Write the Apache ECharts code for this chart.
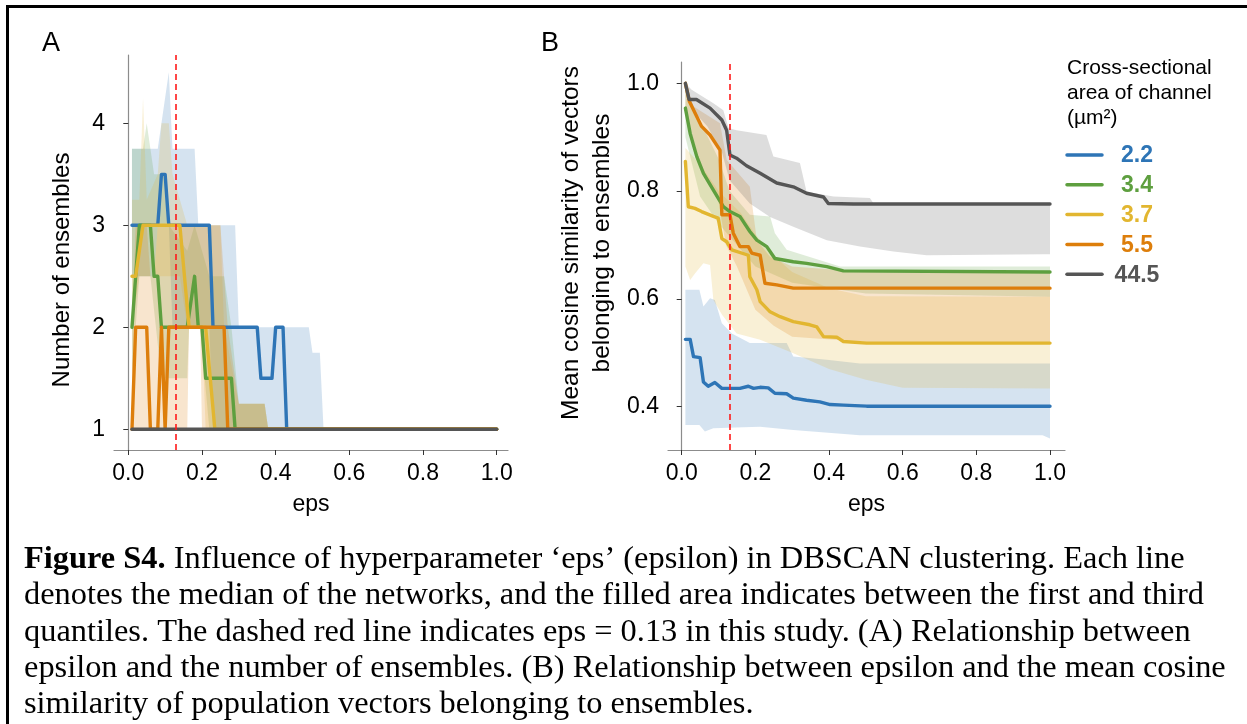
<!DOCTYPE html>
<html>
<head>
<meta charset="utf-8">
<script src="https://cdn.jsdelivr.net/npm/echarts@6/dist/echarts.min.js"></script>
<style>
  html, body { margin: 0; padding: 0; background: #fff; }
  #chart { width: 1247px; height: 724px; }
</style>
</head>
<body>
<div id="chart"></div>
<script>
// Channel cross-sectional areas (µm²) and their colours
const areas = ['2.2', '3.4', '3.7', '5.5', '44.5'];
const colors = ['#2e75b6', '#5e9f3f', '#e2b630', '#dd7e0b', '#555555'];

// eps used in the study
const epsChosen = 0.13;

// Tick labels
const xTicks = [0, 0.2, 0.4, 0.6, 0.8, 1.0];
const yTicksA = [1, 2, 3, 4];
const yTicksB = [0.4, 0.6, 0.8, 1.0];

// ---- Panel A: number of ensembles (median, [eps, value]) ----
const medA_22 = [[0.01,3],[0.08,3],[0.09,3.5],[0.10,3.5],[0.11,3],[0.22,3],[0.23,2],[0.35,2],[0.36,1.5],[0.39,1.5],[0.40,2],[0.42,2],[0.43,1],[1.0,1]];
const medA_34 = [[0.01,2],[0.03,3],[0.06,3],[0.07,2.5],[0.08,2.5],[0.09,2],[0.16,2],[0.18,2.5],[0.19,2],[0.20,2],[0.21,1.5],[0.28,1.5],[0.29,1],[1.0,1]];
const medA_37 = [[0.01,2.5],[0.02,2.5],[0.04,3],[0.14,3],[0.165,2],[0.21,2],[0.235,1],[1.0,1]];
const medA_55 = [[0.01,1],[0.02,2],[0.05,2],[0.06,1],[0.08,1],[0.09,2],[0.10,1],[0.11,2],[0.26,2],[0.27,1],[1.0,1]];
const medA_445 = [[0.01,1],[0.25,1],[0.5,1],[0.75,1],[1.0,1]];

// Panel A quartile bands (upper = third quartile, lower = first quartile)
const upA_22 = [[0.01,3.75],[0.07,3.75],[0.08,3.75],[0.11,4.5],[0.12,3.75],[0.18,3.75],[0.19,3],[0.29,3],[0.30,2],[0.49,2],[0.50,1.75],[0.52,1.75],[0.53,1],[1.0,1]];
const loA_22 = [[0.01,2.5],[0.07,2.5],[0.08,3],[0.11,3],[0.12,2],[0.22,2],[0.23,1],[1.0,1]];
const upA_34 = [[0.01,3.75],[0.04,3.75],[0.05,4],[0.06,3.75],[0.07,3.5],[0.10,3.5],[0.11,3],[0.16,2.75],[0.18,3],[0.20,2.75],[0.22,2.5],[0.26,2.5],[0.28,2],[0.30,1.25],[0.37,1.25],[0.38,1],[1.0,1]];
const loA_34 = [[0.01,1.5],[0.03,2.5],[0.06,2.5],[0.09,1.5],[0.16,1.5],[0.165,2],[0.195,2],[0.22,1],[1.0,1]];
const upA_37 = [[0.01,3.25],[0.03,3.25],[0.04,4.25],[0.05,3.25],[0.08,3.5],[0.09,4],[0.11,4],[0.12,3.5],[0.16,3],[0.25,3],[0.26,2],[0.30,1.25],[0.37,1.25],[0.38,1],[1.0,1]];
const loA_37 = [[0.01,2],[0.03,2.5],[0.14,2.5],[0.16,2],[0.20,2],[0.21,1],[1.0,1]];
const upA_55 = [[0.01,2],[0.02,3],[0.05,3],[0.06,2.5],[0.07,2.5],[0.08,3],[0.25,3],[0.27,2],[0.30,1.25],[0.37,1.25],[0.38,1],[1.0,1]];
const loA_55 = [[0.01,1],[0.16,1],[0.165,2],[0.195,2],[0.20,1],[1.0,1]];

// ---- Panel B: mean cosine similarity (median) ----
const medB_22 = [[0.01,0.525],[0.023,0.525],[0.032,0.493],[0.05,0.491],[0.059,0.446],[0.072,0.438],[0.09,0.445],[0.109,0.434],[0.158,0.434],[0.181,0.438],[0.195,0.434],[0.213,0.436],[0.235,0.435],[0.253,0.425],[0.285,0.424],[0.303,0.416],[0.339,0.412],[0.375,0.409],[0.403,0.404],[0.439,0.403],[0.502,0.401],[1.0,0.401]];
const medB_34 = [[0.01,0.954],[0.023,0.907],[0.041,0.864],[0.059,0.833],[0.086,0.802],[0.113,0.771],[0.131,0.762],[0.158,0.753],[0.185,0.725],[0.204,0.709],[0.231,0.697],[0.253,0.675],[0.303,0.669],[0.339,0.666],[0.394,0.66],[0.439,0.652],[1.0,0.65]];
const medB_37 = [[0.01,0.855],[0.018,0.771],[0.036,0.768],[0.054,0.762],[0.086,0.753],[0.099,0.75],[0.109,0.712],[0.122,0.706],[0.136,0.691],[0.181,0.681],[0.185,0.641],[0.204,0.617],[0.213,0.595],[0.24,0.576],[0.267,0.567],[0.303,0.558],[0.348,0.552],[0.367,0.548],[0.385,0.53],[0.421,0.529],[0.439,0.521],[0.502,0.518],[1.0,0.518]];
const medB_55 = [[0.01,1.0],[0.021,0.966],[0.054,0.92],[0.077,0.904],[0.104,0.876],[0.109,0.756],[0.131,0.756],[0.14,0.722],[0.158,0.697],[0.181,0.697],[0.19,0.685],[0.213,0.681],[0.226,0.629],[0.258,0.626],[0.303,0.62],[1.0,0.62]];
const medB_445 = [[0.01,1.0],[0.02,0.97],[0.04,0.97],[0.077,0.954],[0.109,0.932],[0.122,0.913],[0.131,0.867],[0.149,0.861],[0.176,0.847],[0.213,0.833],[0.258,0.815],[0.303,0.808],[0.339,0.796],[0.385,0.789],[0.398,0.777],[0.466,0.776],[1.0,0.776]];

// Panel B quartile bands
const upB_22 = [[0.01,0.617],[0.048,0.617],[0.059,0.586],[0.077,0.601],[0.09,0.598],[0.109,0.555],[0.136,0.536],[0.185,0.518],[0.285,0.518],[0.303,0.493],[0.394,0.487],[0.484,0.48],[1.0,0.48]];
const loB_22 = [[0.01,0.366],[0.048,0.366],[0.063,0.354],[0.086,0.36],[0.167,0.362],[0.213,0.363],[0.303,0.357],[0.484,0.347],[0.98,0.347],[1.0,0.341]];
const upB_34 = [[0.01,0.99],[0.05,0.93],[0.10,0.86],[0.13,0.80],[0.185,0.756],[0.24,0.753],[0.253,0.722],[0.285,0.691],[0.43,0.66],[1.0,0.66]];
const loB_34 = [[0.01,0.90],[0.05,0.79],[0.10,0.74],[0.15,0.70],[0.20,0.66],[0.30,0.63],[0.50,0.61],[1.0,0.604]];
const upB_37 = [[0.01,0.88],[0.05,0.85],[0.10,0.80],[0.13,0.78],[0.16,0.76],[0.20,0.72],[0.25,0.68],[0.30,0.65],[0.40,0.62],[0.50,0.605],[1.0,0.604]];
const loB_37 = [[0.01,0.66],[0.023,0.635],[0.036,0.647],[0.059,0.666],[0.077,0.663],[0.086,0.598],[0.11,0.57],[0.149,0.536],[0.213,0.524],[0.30,0.50],[0.40,0.47],[0.50,0.45],[0.60,0.435],[1.0,0.434]];
const upB_55 = [[0.01,1.0],[0.032,0.957],[0.104,0.926],[0.122,0.858],[0.185,0.808],[0.204,0.709],[0.24,0.678],[0.30,0.66],[0.50,0.65],[1.0,0.648]];
const loB_55 = [[0.01,0.95],[0.05,0.85],[0.10,0.78],[0.12,0.70],[0.15,0.66],[0.20,0.58],[0.25,0.55],[0.30,0.53],[0.50,0.52],[1.0,0.518]];
const upB_445 = [[0.01,1.0],[0.027,0.988],[0.086,0.963],[0.113,0.95],[0.127,0.917],[0.149,0.913],[0.23,0.904],[0.249,0.864],[0.321,0.852],[0.339,0.799],[0.412,0.79],[0.511,0.787],[0.52,0.778],[1.0,0.778]];
const loB_445 = [[0.01,1.0],[0.03,0.95],[0.07,0.92],[0.11,0.87],[0.13,0.82],[0.185,0.777],[0.24,0.752],[0.303,0.734],[0.394,0.709],[0.484,0.697],[0.575,0.688],[0.665,0.681],[0.98,0.683],[1.0,0.683]];

const medA = [medA_22, medA_34, medA_37, medA_55, medA_445];
const bandsA = [[upA_22, loA_22], [upA_34, loA_34], [upA_37, loA_37], [upA_55, loA_55], null];
const medB = [medB_22, medB_34, medB_37, medB_55, medB_445];
const bandsB = [[upB_22, loB_22], [upB_34, loB_34], [upB_37, loB_37], [upB_55, loB_55], [upB_445, loB_445]];

const FONT = 'Liberation Sans, Arial, Helvetica, sans-serif';
const SERIF = 'Liberation Serif, Times New Roman, serif';

function hexToRgba(hex, a) {
  const n = parseInt(hex.slice(1), 16);
  return 'rgba(' + ((n >> 16) & 255) + ',' + ((n >> 8) & 255) + ',' + (n & 255) + ',' + a + ')';
}

// Filled inter-quartile region drawn as a polygon through the axis scales
function bandSeries(idx, upper, lower, color) {
  return {
    type: 'custom',
    xAxisIndex: idx, yAxisIndex: idx,
    silent: true, z: 1, clip: true,
    data: [upper[0]],
    renderItem: function (params, api) {
      const pts = upper.map(p => api.coord(p))
        .concat(lower.slice().reverse().map(p => api.coord(p)));
      return { type: 'polygon', shape: { points: pts }, style: { fill: hexToRgba(color, 0.2) } };
    }
  };
}

function lineSeries(idx, name, data, color) {
  return {
    type: 'line', name: name,
    xAxisIndex: idx, yAxisIndex: idx,
    data: data, symbol: 'none', z: 3, silent: true,
    lineStyle: { color: color, width: 3.4, join: 'round', cap: 'round' }
  };
}

function epsMarker(idx) {
  return {
    type: 'line', xAxisIndex: idx, yAxisIndex: idx, data: [], z: 5, silent: true,
    markLine: {
      silent: true, symbol: ['none', 'none'], animation: false,
      label: { show: false },
      lineStyle: { color: '#ff1a1a', type: [6, 4], width: 1.6 },
      data: [{ xAxis: epsChosen }]
    }
  };
}

function xAxisCfg(idx, min, max) {
  return {
    type: 'value', gridIndex: idx, min: min, max: max,
    name: 'eps', nameLocation: 'middle', nameGap: 43,
    nameTextStyle: { fontFamily: FONT, fontSize: 23, color: '#000' },
    axisLine: { lineStyle: { color: '#8c8c8c', width: 1.2 } },
    axisTick: { show: true, length: 5, customValues: xTicks, lineStyle: { color: '#333' } },
    axisLabel: { customValues: xTicks, formatter: v => v.toFixed(1), margin: 12,
                 fontFamily: FONT, fontSize: 23, color: '#000' },
    splitLine: { show: false }
  };
}

function yAxisCfg(idx, min, max, ticks, fmt) {
  return {
    type: 'value', gridIndex: idx, min: min, max: max,
    axisLine: { show: true, lineStyle: { color: '#8c8c8c', width: 1.2 } },
    axisTick: { show: true, length: 5, customValues: ticks, lineStyle: { color: '#333' } },
    axisLabel: { customValues: ticks, formatter: fmt, margin: 9,
                 fontFamily: FONT, fontSize: 23, color: '#000' },
    splitLine: { show: false }
  };
}

const series = [];
bandsA.forEach((b, i) => { if (b) series.push(bandSeries(0, b[0], b[1], colors[i])); });
bandsB.forEach((b, i) => { if (b) series.push(bandSeries(1, b[0], b[1], colors[i])); });
medA.forEach((d, i) => series.push(lineSeries(0, areas[i], d, colors[i])));
medB.forEach((d, i) => series.push(lineSeries(1, areas[i], d, colors[i])));
series.push(epsMarker(0));
series.push(epsMarker(1));

// Legend drawn as graphic elements
const legendItems = [];
const legendTop = 155, legendStep = 29.8;
areas.forEach((a, i) => {
  const y = legendTop + i * legendStep;
  legendItems.push({
    type: 'line', shape: { x1: 1067, y1: y, x2: 1102, y2: y },
    style: { stroke: colors[i], lineWidth: 3.5, lineCap: 'round' }
  });
  legendItems.push({
    type: 'text', x: 1137, y: y + 1,
    style: { text: a, fill: colors[i], font: 'bold 23px ' + FONT, align: 'center', verticalAlign: 'middle' }
  });
});

const caption =
  '{b|Figure S4.} Influence of hyperparameter \u2018eps\u2019 (epsilon) in DBSCAN clustering. Each line\n' +
  'denotes the median of the networks, and the filled area indicates between the first and third\n' +
  'quantiles. The dashed red line indicates eps = 0.13 in this study. (A) Relationship between\n' +
  'epsilon and the number of ensembles. (B) Relationship between epsilon and the mean cosine\n' +
  'similarity of population vectors belonging to ensembles.';

const option = {
  animation: false,
  backgroundColor: '#ffffff',
  grid: [
    { left: 114, top: 55, width: 394, height: 395 },
    { left: 668, top: 62, width: 397, height: 388 }
  ],
  xAxis: [xAxisCfg(0, -0.0388, 1.0307), xAxisCfg(1, -0.0372, 1.0407)],
  yAxis: [
    yAxisCfg(0, 0.797, 4.67, yTicksA, v => String(v)),
    yAxisCfg(1, 0.3197, 1.0395, yTicksB, v => v.toFixed(1))
  ],
  series: series,
  graphic: [
    { type: 'rect', shape: { x: 7.5, y: 6.5, width: 1400, height: 900 },
      style: { fill: 'none', stroke: '#000', lineWidth: 3 }, silent: true },
    { type: 'text', x: 51, y: 44,
      style: { text: 'A', font: '27px ' + FONT, fill: '#000', align: 'center', verticalAlign: 'middle' } },
    { type: 'text', x: 550, y: 44,
      style: { text: 'B', font: '27px ' + FONT, fill: '#000', align: 'center', verticalAlign: 'middle' } },
    { type: 'text', x: 62, y: 270, rotation: Math.PI / 2,
      style: { text: 'Number of ensembles', font: '24px ' + FONT, fill: '#000', align: 'center', verticalAlign: 'middle' } },
    { type: 'text', x: 587, y: 243, rotation: Math.PI / 2,
      style: { text: 'Mean cosine similarity of vectors\nbelonging to ensembles', font: '24.5px ' + FONT,
               fill: '#000', align: 'center', verticalAlign: 'middle', lineHeight: 31 } },
    { type: 'text', x: 1067, y: 56,
      style: { text: 'Cross-sectional\narea of channel\n(\u00b5m\u00b2)', font: '21px ' + FONT,
               fill: '#000', align: 'left', verticalAlign: 'top', lineHeight: 25 } },
    { type: 'group', children: legendItems },
    { type: 'text', x: 24, y: 541.5,
      style: { text: caption, font: '32.4px ' + SERIF, fill: '#000', align: 'left', verticalAlign: 'top',
               lineHeight: 36.2, rich: { b: { fontWeight: 'bold', fontSize: 32.4, fontFamily: SERIF, lineHeight: 36.2 } } } }
  ]
};

const chart = echarts.init(document.getElementById('chart'), null, { renderer: 'canvas' });
chart.setOption(option);
</script>
</body>
</html>
